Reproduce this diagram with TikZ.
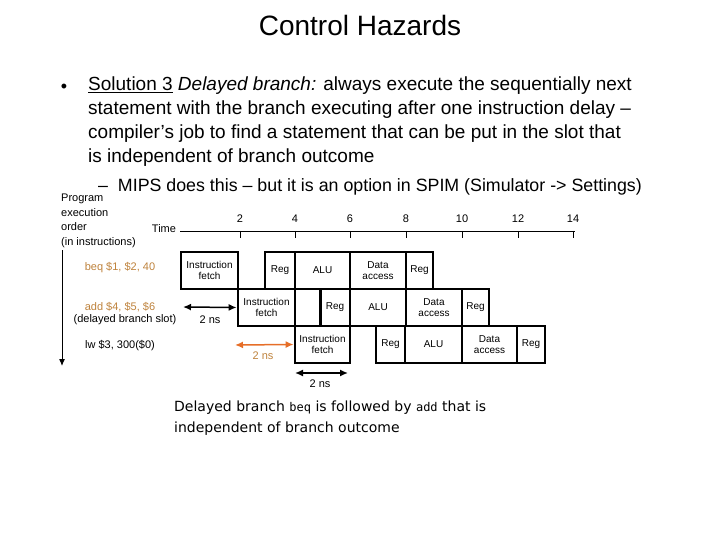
\documentclass[tikz,border=0pt]{standalone}
\usepackage{fontspec}
\setmainfont{Liberation Sans}
\newfontfamily\tah{DejaVu Sans}
\newfontfamily\monof{DejaVu Sans Mono}
\usetikzlibrary{arrows.meta}
\definecolor{instr}{RGB}{190,130,60}
\definecolor{orarr}{RGB}{230,110,40}
\begin{document}
\begin{tikzpicture}[x=1pt,y=-1pt,
  stage/.style={draw,line width=2.8pt,minimum height=37pt,inner sep=0pt,font=\fontsize{10}{11}\selectfont,align=center},
  lab/.style={font=\fontsize{11}{13}\selectfont,inner sep=0pt},
  tim/.style={{Latex[length=8pt,width=7pt]}-{Latex[length=8pt,width=7pt]},line width=1.5pt}]
\useasboundingbox (0,0) rectangle (720,540);
\node (title) at (360,25) {\fontsize{28}{32}\selectfont Control Hazards};
\node (bul) at (64,88) {\fontsize{18}{22}\selectfont •};
\node[anchor=north west,inner sep=0pt,align=left,font=\fontsize{19}{24}\selectfont] (txt) at (88,77)
 {\underline{Solution 3} \textit{Delayed branch:} always execute the sequentially next\\statement with the branch executing after one instruction delay –\\compiler’s job to find a statement that can be put in the slot that\\is independent of branch outcome};
\node[anchor=west,inner sep=0pt] (sub) at (98,187) {\fontsize{17.8}{20}\selectfont – \ MIPS does this – but it is an option in SPIM (Simulator -> Settings)};
\node[anchor=north west,align=left,inner sep=0pt,font=\fontsize{11}{14.5}\selectfont] (peo) at (61,194) {Program\\execution\\order\\(in instructions)};
\node[lab] (time) at (164,229) {Time};
\coordinate (ax0) at (180,231); \coordinate (ax1) at (575,231);
\draw (ax0) -- (ax1);
\foreach \v/\x in {2/240,4/295,6/350,8/406,10/462,12/518,14/573}{
  \draw (\x,231) -- (\x,238);
  \node[lab] (t\v) at (\x,219) {\v};}
\coordinate (va) at (62,250); \coordinate (vb) at (62,366);
\draw[line width=1pt,-{Latex[length=7pt,width=6pt]}] (va) -- (vb);
\node[lab,text=instr] (i1) at (120,268) {beq \$1, \$2, 40};
\node[lab,text=instr] (i2) at (120,307) {add \$4, \$5, \$6};
\node[lab] (i2b) at (125,320) {(delayed branch slot)};
\node[lab] (i3) at (120,346) {lw \$3, 300(\$0)};
\begin{scope}[every node/.style={stage}]
\node[minimum width=57pt] (a1) at (209.5,270.5) {Instruction\\fetch};
\node[minimum width=30pt] (a2) at (280,270.5) {Reg};
\node[minimum width=55pt] (a3) at (322.5,270.5) {ALU};
\node[minimum width=56pt] (a4) at (378,270.5) {Data\\access};
\node[minimum width=27pt] (a5) at (419.5,270.5) {Reg};
\node[minimum width=57pt] (b1) at (266.5,307.5) {Instruction\\fetch};
\node[minimum width=26pt] (b0) at (308,307.5) {};
\node[minimum width=30pt] (b2) at (335,307.5) {Reg};
\node[minimum width=56pt] (b3) at (378,307.5) {ALU};
\node[minimum width=56pt] (b4) at (434,307.5) {Data\\access};
\node[minimum width=27pt] (b5) at (475.5,307.5) {Reg};
\node[minimum width=55pt] (c1) at (322.5,344.5) {Instruction\\fetch};
\node[minimum width=29pt] (c2) at (390.5,344.5) {Reg};
\node[minimum width=57pt] (c3) at (433.5,344.5) {ALU};
\node[minimum width=55pt] (c4) at (489.5,344.5) {Data\\access};
\node[minimum width=28pt] (c5) at (531,344.5) {Reg};
\end{scope}
\coordinate (p1) at (183,307); \draw[tim] (p1) -- (b1.west);
\node[lab] (n1) at (210,320) {2 ns};
\coordinate (p2) at (235,345); \draw[tim,orarr] (p2) -- (c1.west);
\node[lab,text=instr] (n2) at (263,356) {2 ns};
\coordinate (p3) at (295,373); \coordinate (p4) at (348,373); \draw[tim] (p3) -- (p4);
\node[lab] (n3) at (320,384) {2 ns};
\node[anchor=north west,inner sep=0pt,align=left,font=\tah\fontsize{14}{21}\selectfont] (note) at (174,401)
 {Delayed branch {\monof\fontsize{12}{14}\selectfont beq} is followed by {\monof\fontsize{12}{14}\selectfont add} that is\\independent of branch outcome};
\end{tikzpicture}
\end{document}
